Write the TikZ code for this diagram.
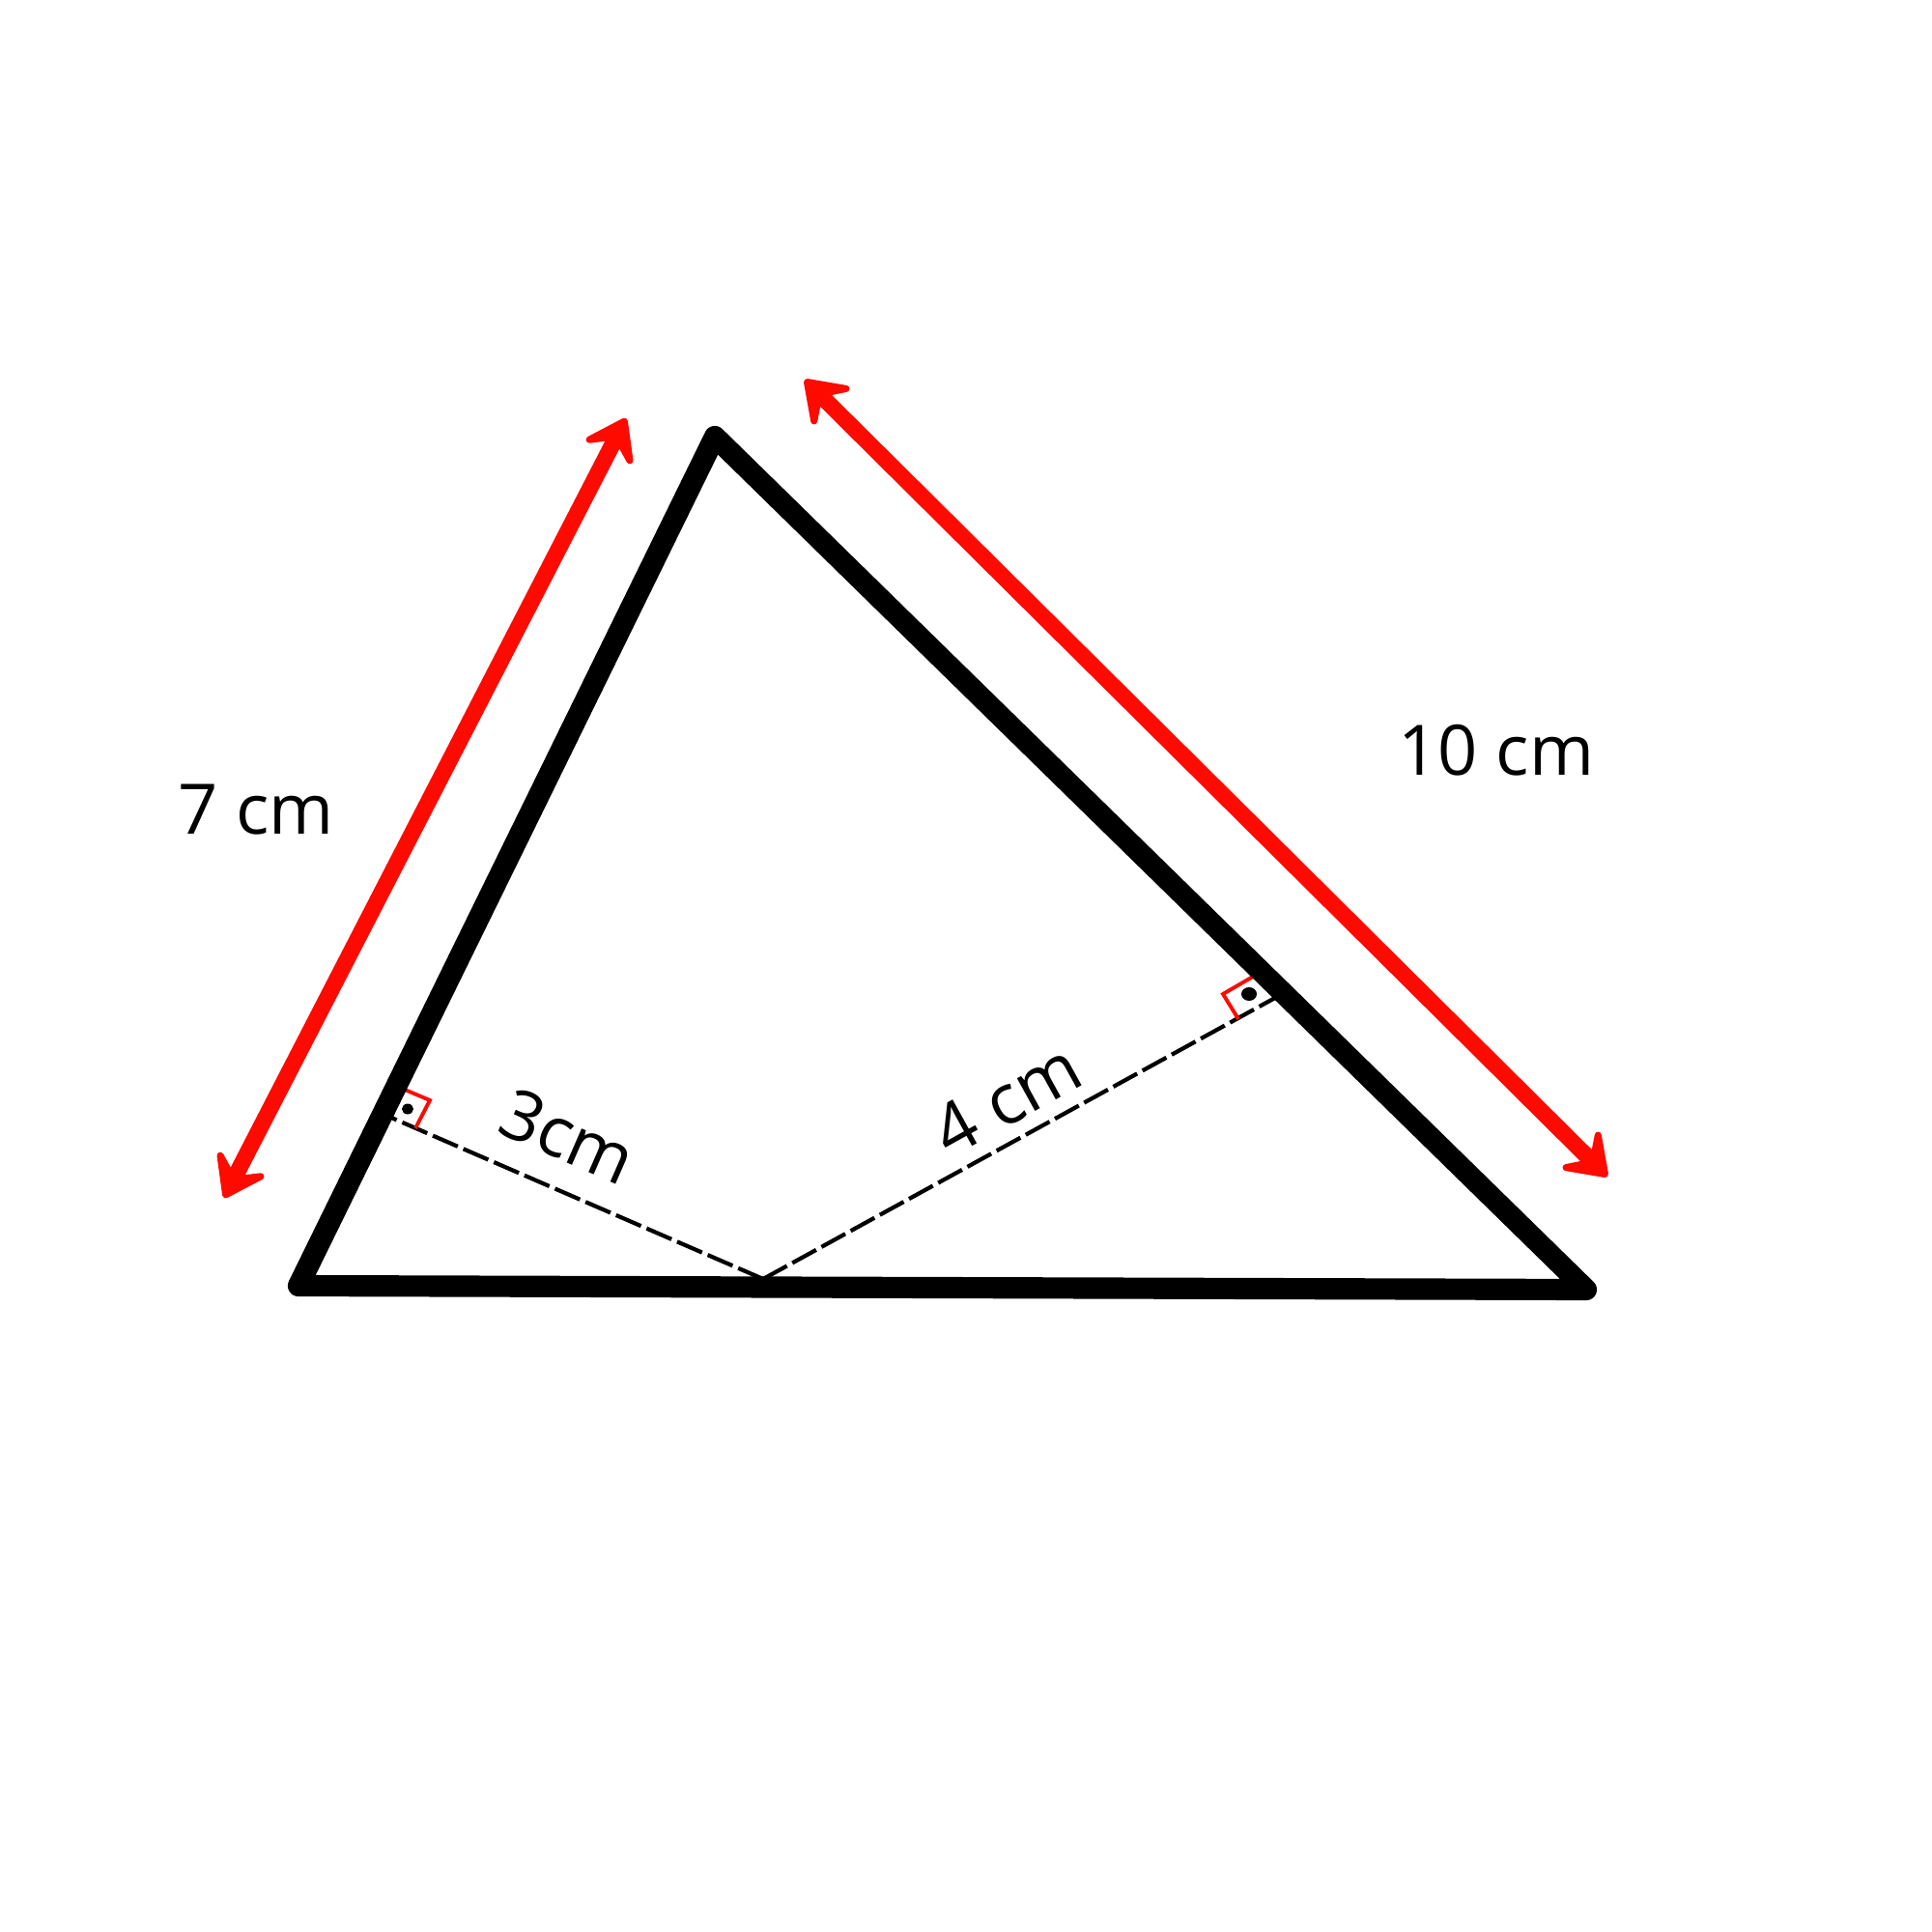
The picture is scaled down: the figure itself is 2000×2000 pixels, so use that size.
\documentclass[tikz,border=0pt]{standalone}
\usepackage{fontspec}
\setmainfont{Open Sans}
\usepackage{xcolor}
\usepackage{tikz}
\usetikzlibrary{arrows.meta,calc}
\definecolor{cInk}{HTML}{000000}
\definecolor{cRed}{HTML}{FF0A00}
\tikzset{
  side/.style={draw=cInk,line width=6.3pt,line join=round,line cap=round},
  dimarr/.style={draw=cRed,line width=4.8pt,line cap=round,
    {Stealth[length=15pt,width=21pt,inset=7pt,round]}-{Stealth[length=15pt,width=21pt,inset=7pt,round]}},
  alt/.style={draw=cInk,line width=1.2pt,dash pattern=on 8pt off 1.8pt},
  rmark/.style={draw=cRed,line width=1.1pt,line join=miter},
  lbl/.style={font=\fontsize{20.5}{24}\selectfont,text=cInk,inner sep=0pt},
}

\begin{document}
\begin{tikzpicture}[x=0.01cm,y=-0.01cm]
  \useasboundingbox (0,0) rectangle (2000,2000);
  % vertices and feet of the heights
  \coordinate (A) at (309,1331);
  \coordinate (B) at (740,452);
  \coordinate (C) at (1642,1335);
  \coordinate (D) at (790,1324);
  \coordinate (E) at (396,1153);
  \coordinate (F) at (1329,1028);
  % heights
  \draw[alt] (D) -- (E);
  \draw[alt] (D) -- (F);
  \draw[rmark] (419,1128) -- (445,1139) -- (430,1168);
  \draw[rmark] (1297,1011) -- (1266,1029) -- (1282,1055);
  \fill[cInk] (422,1148) ellipse [x radius=0.06cm,y radius=0.055cm];
  \fill[cInk] (1293,1029) ellipse [x radius=0.08cm,y radius=0.07cm];
  % triangle
  \draw[side] (A) -- (B) -- (C) -- cycle;
  % dimension arrows
  \coordinate (a1) at (232,1240);
  \coordinate (a2) at (648,433);
  \coordinate (b1) at (833,393);
  \coordinate (b2) at (1664,1218);
  \draw[dimarr] (a1) -- (a2);
  \draw[dimarr] (b1) -- (b2);
  % labels
  \node[lbl,anchor=base] (l7) at (265,863) {7 cm};
  \node[lbl,anchor=base] (l10) at (1549,802) {10 cm};
  \node[lbl,rotate=-23.6] (l3) at (588,1176) {3cm};
  \node[lbl,rotate=28.9] (l4) at (1042,1138) {4 cm};
\end{tikzpicture}
\end{document}
